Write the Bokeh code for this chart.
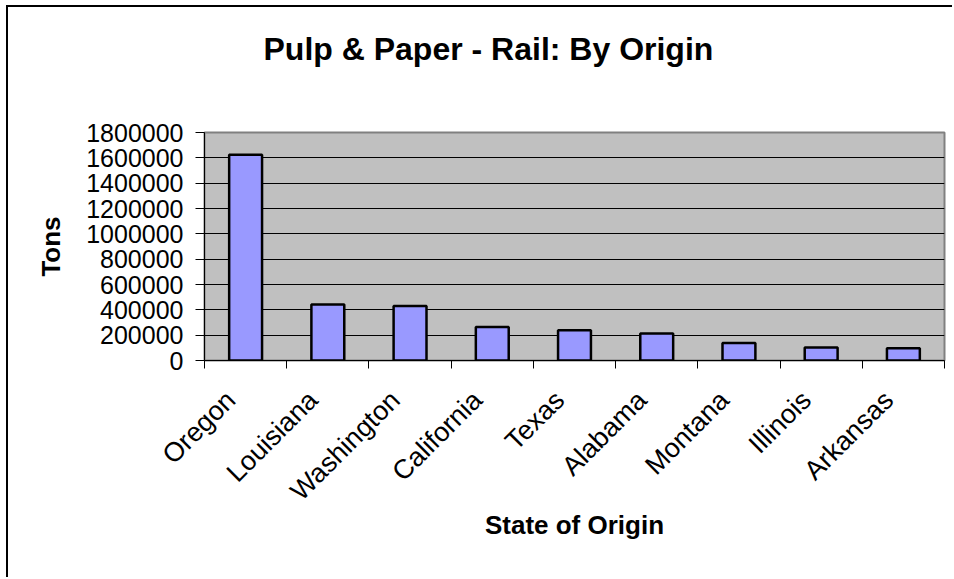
from bokeh.plotting import figure
from bokeh.models import (FixedTicker, BasicTickFormatter, ColumnDataSource,
                          Range1d, Title)
from bokeh.embed import file_html
from bokeh.resources import INLINE
from math import pi

# Rail shipments of pulp & paper, tons, by state of origin
states = ["Oregon", "Louisiana", "Washington", "California", "Texas",
          "Alabama", "Montana", "Illinois", "Arkansas"]
tons = [1625000, 442000, 430000, 265000, 238000, 214000, 139000, 103000, 97000]
y_ticks = [0, 200000, 400000, 600000, 800000, 1000000, 1200000, 1400000,
           1600000, 1800000]

FONT = "Liberation Sans"

centers = [i + 0.5 for i in range(len(states))]
# rotated names hang from their upper-right corner, just left of the centre
label_pos = [c - 0.18 for c in centers]
src = ColumnDataSource(dict(x=centers, top=tons, state=states))

# the chart sits inside a frame drawn on its top and left edges
p = figure(width=946, height=572, output_backend="svg", toolbar_location=None,
           x_range=Range1d(0, len(states)), y_range=Range1d(0, 1800000),
           min_border_left=196, min_border_right=10,
           min_border_top=122, min_border_bottom=219)
p.styles = {"border-left": "2px solid black", "border-top": "2px solid black",
            "margin-left": "6px", "margin-top": "5px"}

p.background_fill_color = "#C0C0C0"
p.border_fill_color = "white"
p.outline_line_color = "#808080"
p.outline_line_width = 2

p.vbar(x="x", top="top", width=0.4, source=src,
       fill_color="#9999FF", line_color="black", line_width=2.5)

# y axis
p.yaxis.ticker = FixedTicker(ticks=y_ticks)
p.yaxis.formatter = BasicTickFormatter(use_scientific=False)
p.yaxis.major_label_text_font = FONT
p.yaxis.major_label_text_font_size = "25px"
p.yaxis.major_label_text_color = "black"
p.yaxis.major_label_standoff = 12
p.yaxis.major_tick_in = 0
p.yaxis.major_tick_out = 9
p.yaxis.minor_tick_line_color = None
p.yaxis.axis_line_color = "black"
p.yaxis.axis_label = "Tons"
p.yaxis.axis_label_text_font = FONT
p.yaxis.axis_label_text_font_style = "bold"
p.yaxis.axis_label_text_font_size = "26px"
p.yaxis.axis_label_text_color = "black"
p.yaxis.axis_label_standoff = 17

# x axis: state names near the centres, tick marks at the boundaries
p.xaxis.ticker = FixedTicker(ticks=label_pos,
                             minor_ticks=list(range(len(states) + 1)))
p.xaxis.major_label_overrides = {c: s for c, s in zip(label_pos, states)}
p.xaxis.major_tick_line_color = None
p.xaxis.minor_tick_line_color = "black"
p.xaxis.minor_tick_in = 0
p.xaxis.minor_tick_out = 8
p.xaxis.major_label_orientation = pi / 4
p.xaxis.major_label_standoff = 27
p.xaxis.major_label_text_font = FONT
p.xaxis.major_label_text_font_size = "27px"
p.xaxis.major_label_text_color = "black"
p.xaxis.axis_line_color = "black"
p.xaxis.axis_label = "State of Origin"
p.xaxis.axis_label_text_font = FONT
p.xaxis.axis_label_text_font_style = "bold"
p.xaxis.axis_label_text_font_size = "26px"
p.xaxis.axis_label_text_color = "black"
p.xaxis.axis_label_standoff = -10

p.xgrid.grid_line_color = None
p.ygrid.ticker = FixedTicker(ticks=y_ticks)
p.ygrid.grid_line_color = "black"
p.ygrid.grid_line_width = 1

# blank gap between the plot area and the chart title (nearest the frame)
p.add_layout(Title(text=" ", text_font_size="2px", standoff=37), "above")
p.add_layout(Title(text="Pulp & Paper - Rail: By Origin", align="left",
                   offset=59, standoff=46, vertical_align="top",
                   text_font=FONT, text_font_style="bold",
                   text_font_size="32px", text_color="black"), "above")

open("out.html", "w").write(file_html(p, INLINE))
